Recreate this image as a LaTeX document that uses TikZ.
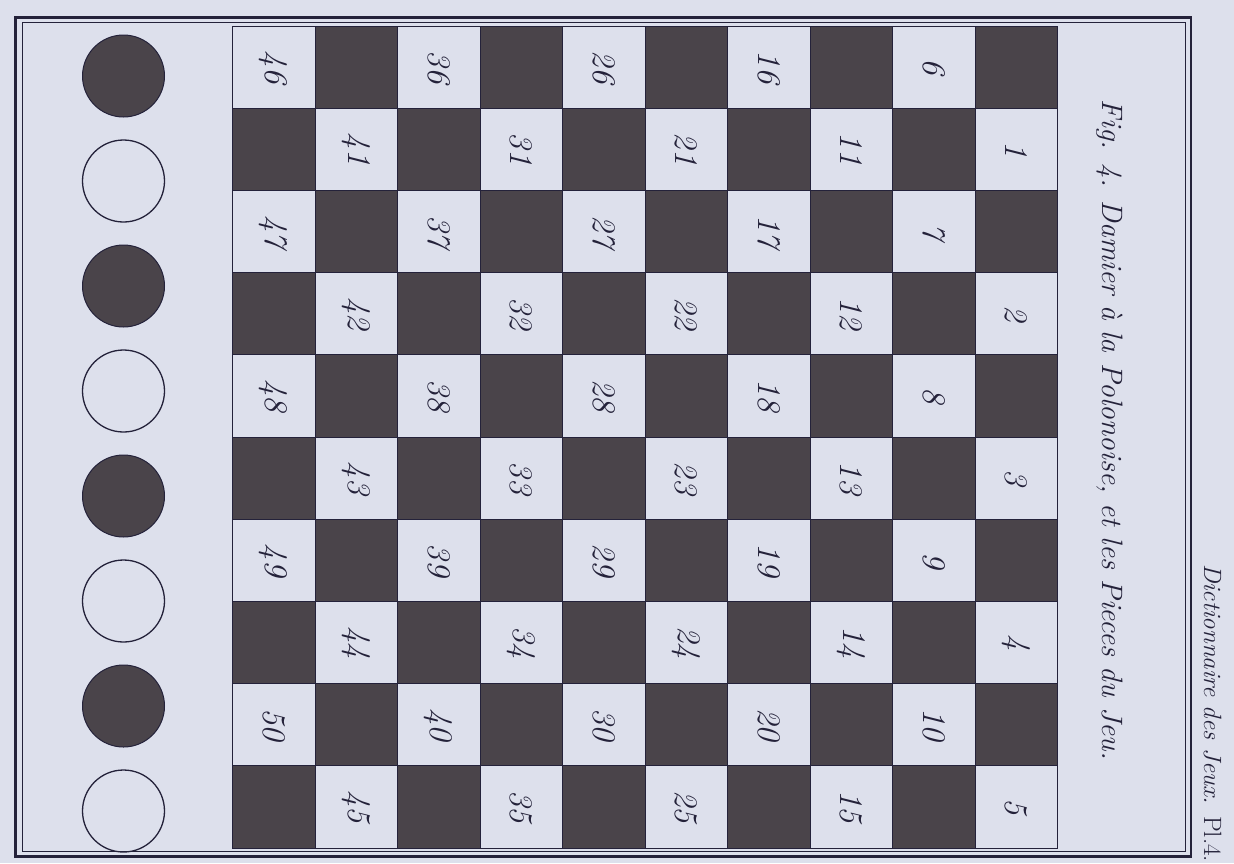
\RequirePackage{fix-cm}
\documentclass[tikz,border=0pt]{standalone}
\definecolor{paper}{RGB}{221,224,236}
\definecolor{ink}{RGB}{36,34,58}
\definecolor{darksq}{RGB}{74,68,74}
\begin{document}
\begin{tikzpicture}[x=1pt,y=-1pt,
  cellline/.style={draw=ink,line width=0.8pt},
  num/.style={rotate=-90,inner sep=0pt,text=ink,font=\fontsize{33}{33}\selectfont\itshape},
  caption/.style={rotate=-90,inner sep=0pt,text=ink,anchor=base},
  piecedark/.style={circle,minimum size=82pt,inner sep=0pt,fill=darksq,draw=ink,line width=1pt},
  piecelight/.style={circle,minimum size=82pt,inner sep=0pt,draw=ink,line width=1.3pt}]
\fill[paper] (0,0) rectangle (1234,863);
\useasboundingbox (0,0) rectangle (1234,863);
% frame
\draw[ink,line width=2.2pt] (15.5,17.5) rectangle (1191,856.5);
\draw[ink,line width=0.9pt] (22,22.5) rectangle (1185.5,851.5);
% board
\foreach \c in {1,...,10}{
  \foreach \r in {1,...,10}{
    \pgfmathsetmacro{\xa}{1057.5-\c*82.5}
    \pgfmathsetmacro{\ya}{26+(\r-1)*82.2}
    \pgfmathsetmacro{\xb}{\xa+82.5}
    \pgfmathsetmacro{\yb}{\ya+82.2}
    \pgfmathtruncatemacro{\odd}{mod(\c+\r,2)}
    \ifnum\odd=0
      \fill[darksq,cellline] (\xa,\ya) rectangle (\xb,\yb);
    \else
      \pgfmathtruncatemacro{\n}{5*(\c-1)+int((\r+1)/2)}
      \draw[cellline] (\xa,\ya) rectangle (\xb,\yb);
      \node[num] (n\n) at ({\xa+41.25},{\ya+41.1}) {\n};
    \fi
  }
}
% pieces
\foreach \i in {0,...,7}{
  \pgfmathtruncatemacro{\odd}{mod(\i,2)}
  \ifnum\odd=0
    \node[piecedark] (p\i) at (123.5,{76+\i*105}) {};
  \else
    \node[piecelight] (p\i) at (123.5,{76+\i*105}) {};
  \fi
}
% captions
\node[caption,font=\fontsize{29.5}{29.5}\selectfont\itshape] (fig) at (1102,430)
  {Fig. 4. Damier à la Polonoise, et les Pieces du Jeu.};
\node[caption,font=\fontsize{25}{25}\selectfont] (plate) at (1204,713)
  {\itshape Dictionnaire des Jeux. \upshape Pl.4.};
\end{tikzpicture}
\end{document}
